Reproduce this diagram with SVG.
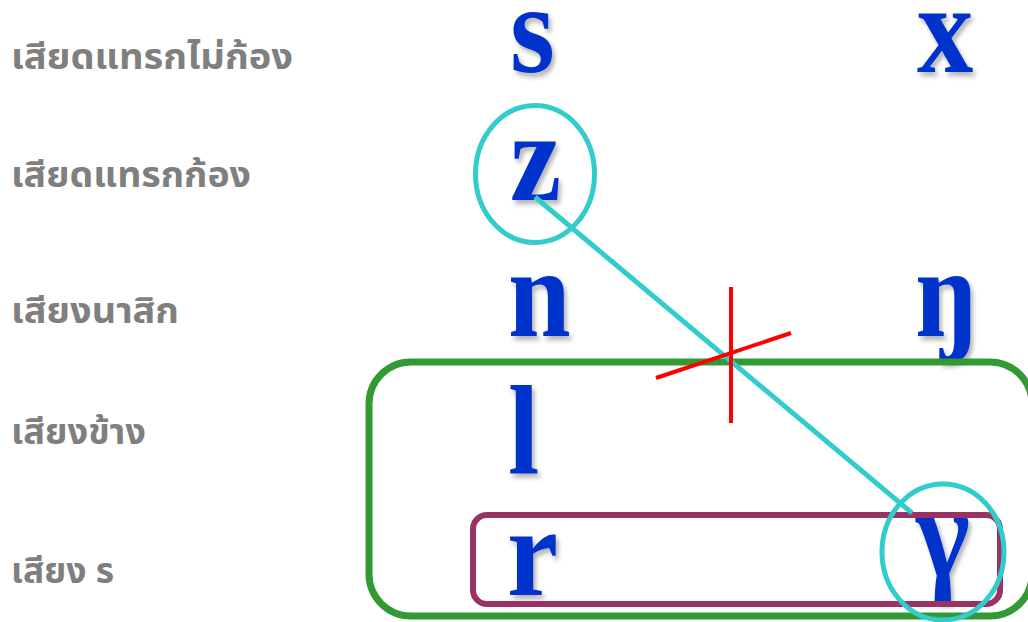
<svg xmlns="http://www.w3.org/2000/svg" width="1028" height="622" viewBox="0 0 1028 622">
<defs>
<filter id="sh" x="-30%" y="-30%" width="160%" height="160%">
<feDropShadow dx="3" dy="4" stdDeviation="2.5" flood-color="#000" flood-opacity="0.3"/>
</filter>
</defs>
<style>
.lab{font-family:"Noto Sans Thai","Noto Sans","DejaVu Sans",sans-serif;font-weight:bold;font-size:35px;fill:#7f7f7f}
.ph{font-family:"Liberation Serif","Times New Roman",serif;font-weight:bold;font-size:128px;fill:#0033cc;filter:url(#sh)}
.cy{fill:none;stroke:#33cccc;stroke-width:5}
.red{stroke:#ff0000;stroke-width:4;fill:none}
</style>
<rect width="1028" height="622" fill="#ffffff"/>
<g id="labels">
<text class="lab" x="11" y="69" textLength="282" lengthAdjust="spacingAndGlyphs">เสียดแทรกไม่ก้อง</text>
<text class="lab" x="11" y="187" textLength="240" lengthAdjust="spacingAndGlyphs">เสียดแทรกก้อง</text>
<text class="lab" x="11" y="323" textLength="168" lengthAdjust="spacingAndGlyphs">เสียงนาสิก</text>
<text class="lab" x="11" y="444" textLength="135" lengthAdjust="spacingAndGlyphs">เสียงข้าง</text>
<text class="lab" x="11" y="583" textLength="103" lengthAdjust="spacingAndGlyphs">เสียง ร</text>
</g>
<g id="phonemes">
<g id="s"><text class="ph" transform="translate(510,72) scale(0.9,1)">s</text></g>
<g id="x"><text class="ph" transform="translate(917,72) scale(0.88,1)">x</text></g>
<g id="z"><text class="ph" transform="translate(510,200) scale(0.9,1)">z</text></g>
<g id="n"><text class="ph" transform="translate(508,336) scale(0.88,1)">n</text></g>
<g id="eng"><text class="ph" transform="translate(915,336) scale(0.88,1)">ŋ</text></g>
<g id="l"><text class="ph" transform="translate(508,473) scale(0.88,1)">l</text></g>
<g id="r"><text class="ph" transform="translate(507,595) scale(0.9,1)">r</text></g>
<g id="gamma"><text class="ph" transform="translate(916,576) scale(0.9,1)">γ</text></g>
</g>
<g id="groups">
<rect id="green-box" x="369" y="362" width="663" height="254" rx="42" fill="none" stroke="#339933" stroke-width="7"/>
<rect id="purple-box" x="473" y="515" width="527" height="89" rx="14" fill="none" stroke="#993366" stroke-width="6"/>
<ellipse id="z-circle" class="cy" cx="535" cy="174" rx="59.5" ry="68.5"/>
<ellipse id="gamma-circle" class="cy" cx="943" cy="552" rx="61" ry="68"/>
</g>
<g id="connectors">
<line class="cy" x1="535" y1="197" x2="912" y2="513"/>
<g id="cross">
<line class="red" x1="731" y1="287" x2="731" y2="423"/>
<line class="red" x1="656" y1="378" x2="791" y2="333"/>
</g>
</g>
</svg>
